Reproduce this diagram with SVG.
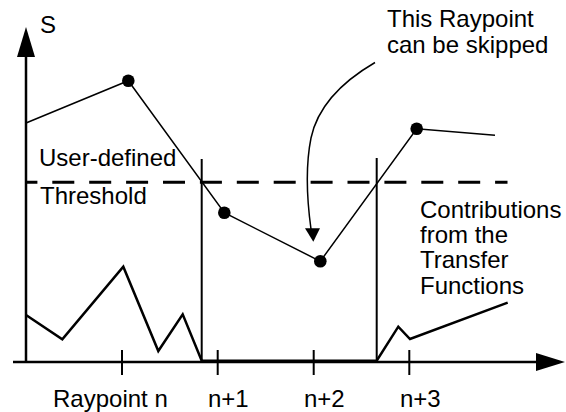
<svg xmlns="http://www.w3.org/2000/svg" width="566" height="412" viewBox="0 0 566 412">
<style>
text{font-family:"Liberation Sans",Arial,sans-serif;font-size:24px;fill:#000}
.ax{stroke:#000;stroke-width:2.5;fill:none}
.tick{stroke:#000;stroke-width:2;fill:none}
.vl{stroke:#000;stroke-width:2;fill:none}
.ray{stroke:#000;stroke-width:1.5;fill:none}
.tf{stroke:#000;stroke-width:2.5;fill:none;stroke-linejoin:miter}
.pt{fill:#000}
</style>
<rect width="566" height="412" fill="#fff"/>
<g id="axes">
<line class="ax" x1="26" y1="362" x2="26" y2="55"/>
<polygon points="26,27 17,57 35,57" fill="#000"/>
<line class="ax" x1="13" y1="362" x2="537" y2="362"/>
<polygon points="565,362 536,353 536,371" fill="#000"/>
<line class="tick" x1="122" y1="350" x2="122" y2="375"/>
<line class="tick" x1="217.7" y1="350" x2="217.7" y2="375"/>
<line class="tick" x1="313.7" y1="350" x2="313.7" y2="375"/>
<line class="tick" x1="409.3" y1="350" x2="409.3" y2="375"/>
<text x="40" y="33">S</text>
<text x="53" y="407">Raypoint n</text>
<text x="208" y="407">n+1</text>
<text x="304" y="407">n+2</text>
<text x="400" y="407">n+3</text>
</g>
<g id="threshold">
<line x1="26" y1="182.3" x2="507.5" y2="182.3" stroke="#000" stroke-width="3" stroke-dasharray="22 14.9" stroke-dashoffset="10.6"/>
<text x="39" y="166">User-defined</text>
<text x="40" y="204">Threshold</text>
</g>
<g id="bounds">
<line class="vl" x1="201.7" y1="159" x2="201.7" y2="362"/>
<line class="vl" x1="376.7" y1="158" x2="376.7" y2="362"/>
</g>
<g id="transfer-functions">
<polyline class="tf" points="26,315 62.3,339.3 123.3,266.7 158.3,351 182.7,314.3 201.7,360.7 376.7,360.7 398.3,326.7 410,339 507.7,302.7"/>
<text x="420" y="218">Contributions</text>
<text x="420" y="243">from the</text>
<text x="420" y="268">Transfer</text>
<text x="420" y="294">Functions</text>
</g>
<g id="connectors">
<polyline class="ray" points="26,123 128.3,80.7 224.3,212.7 320.3,261.3 416.7,128.7 495,135.3"/>
<path d="M375,62.5 C345,80 318,105 311,138 C305,168 307,200 311,229" stroke="#000" stroke-width="1.5" fill="none"/>
<polygon points="305,228.3 320,228.3 313.3,241.7" fill="#000"/>
</g>
<g id="raypoint-n"><circle class="pt" cx="128.3" cy="80.7" r="6.3"/></g>
<g id="raypoint-n1"><circle class="pt" cx="224.3" cy="212.7" r="6.3"/></g>
<g id="raypoint-n2"><circle class="pt" cx="320.3" cy="261.3" r="6.3"/></g>
<g id="raypoint-n3"><circle class="pt" cx="416.7" cy="128.7" r="6.3"/></g>
<g id="skip-note">
<text x="387" y="27">This Raypoint</text>
<text x="387" y="53">can be skipped</text>
</g>
</svg>
